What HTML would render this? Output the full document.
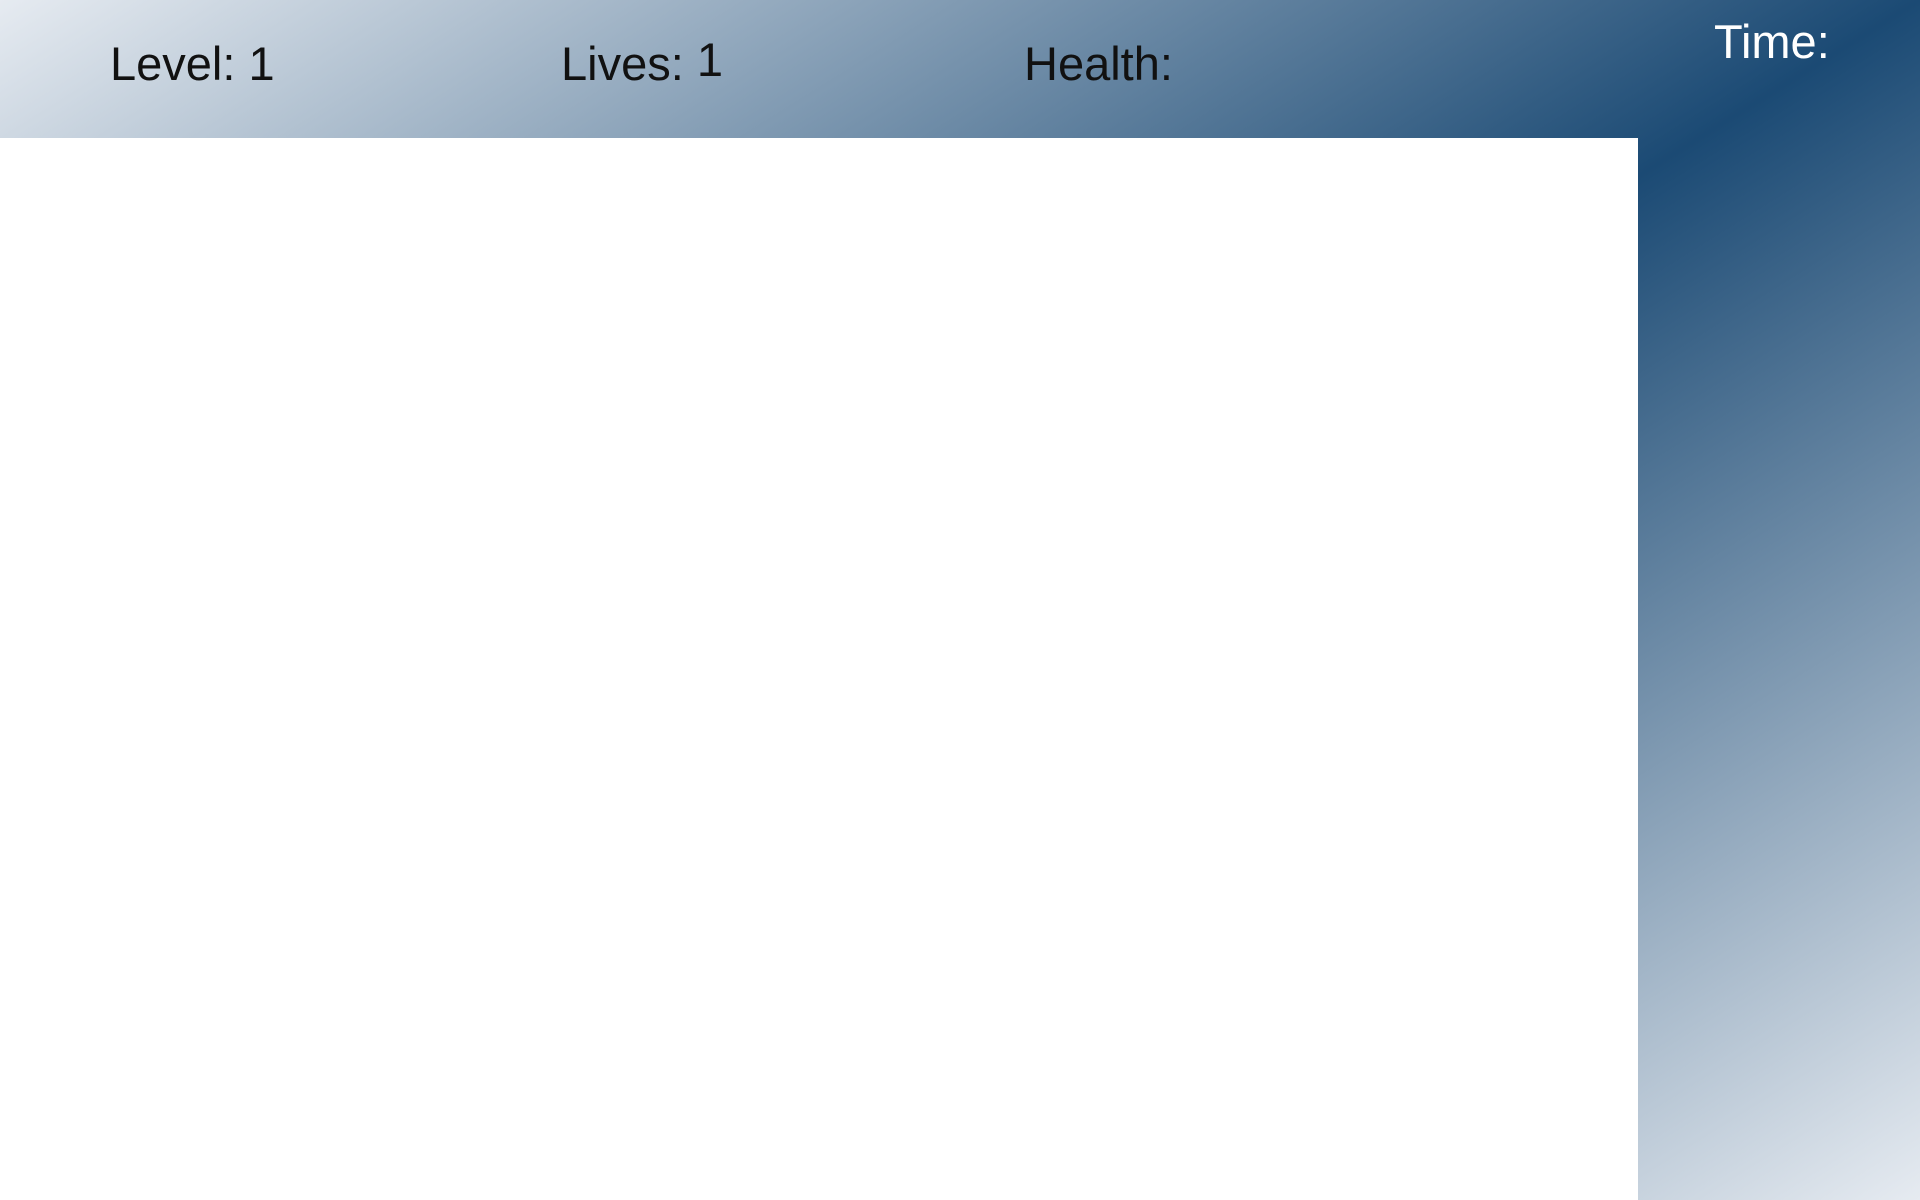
<!DOCTYPE html>
<html>
<head>
<meta charset="utf-8">
<style>
  html,body{margin:0;padding:0;}
  body{width:1920px;height:1200px;position:relative;overflow:hidden;
    background:linear-gradient(to bottom right,#e6ebf1 0%,#1b4a74 50%,#e6ebf1 100%);
    font-family:"Liberation Sans",sans-serif;}
  .hud{position:absolute;font-size:47px;color:#111;letter-spacing:0px;white-space:nowrap;}
  #play-area{position:absolute;left:0;top:138px;width:1638px;height:1062px;background:#fff;}
</style>
</head>
<body>
  <div class="hud" style="left:110px;top:36px;">Level: 1</div>
  <div class="hud" style="left:561px;top:36px;">Lives: <span style="position:relative;top:-4px;">1</span></div>
  <div class="hud" style="left:1024px;top:36px;">Health:</div>
  <div class="hud" style="left:1714px;top:14px;color:#fff;">Time:</div>
  <div id="play-area"></div>
</body>
</html>
